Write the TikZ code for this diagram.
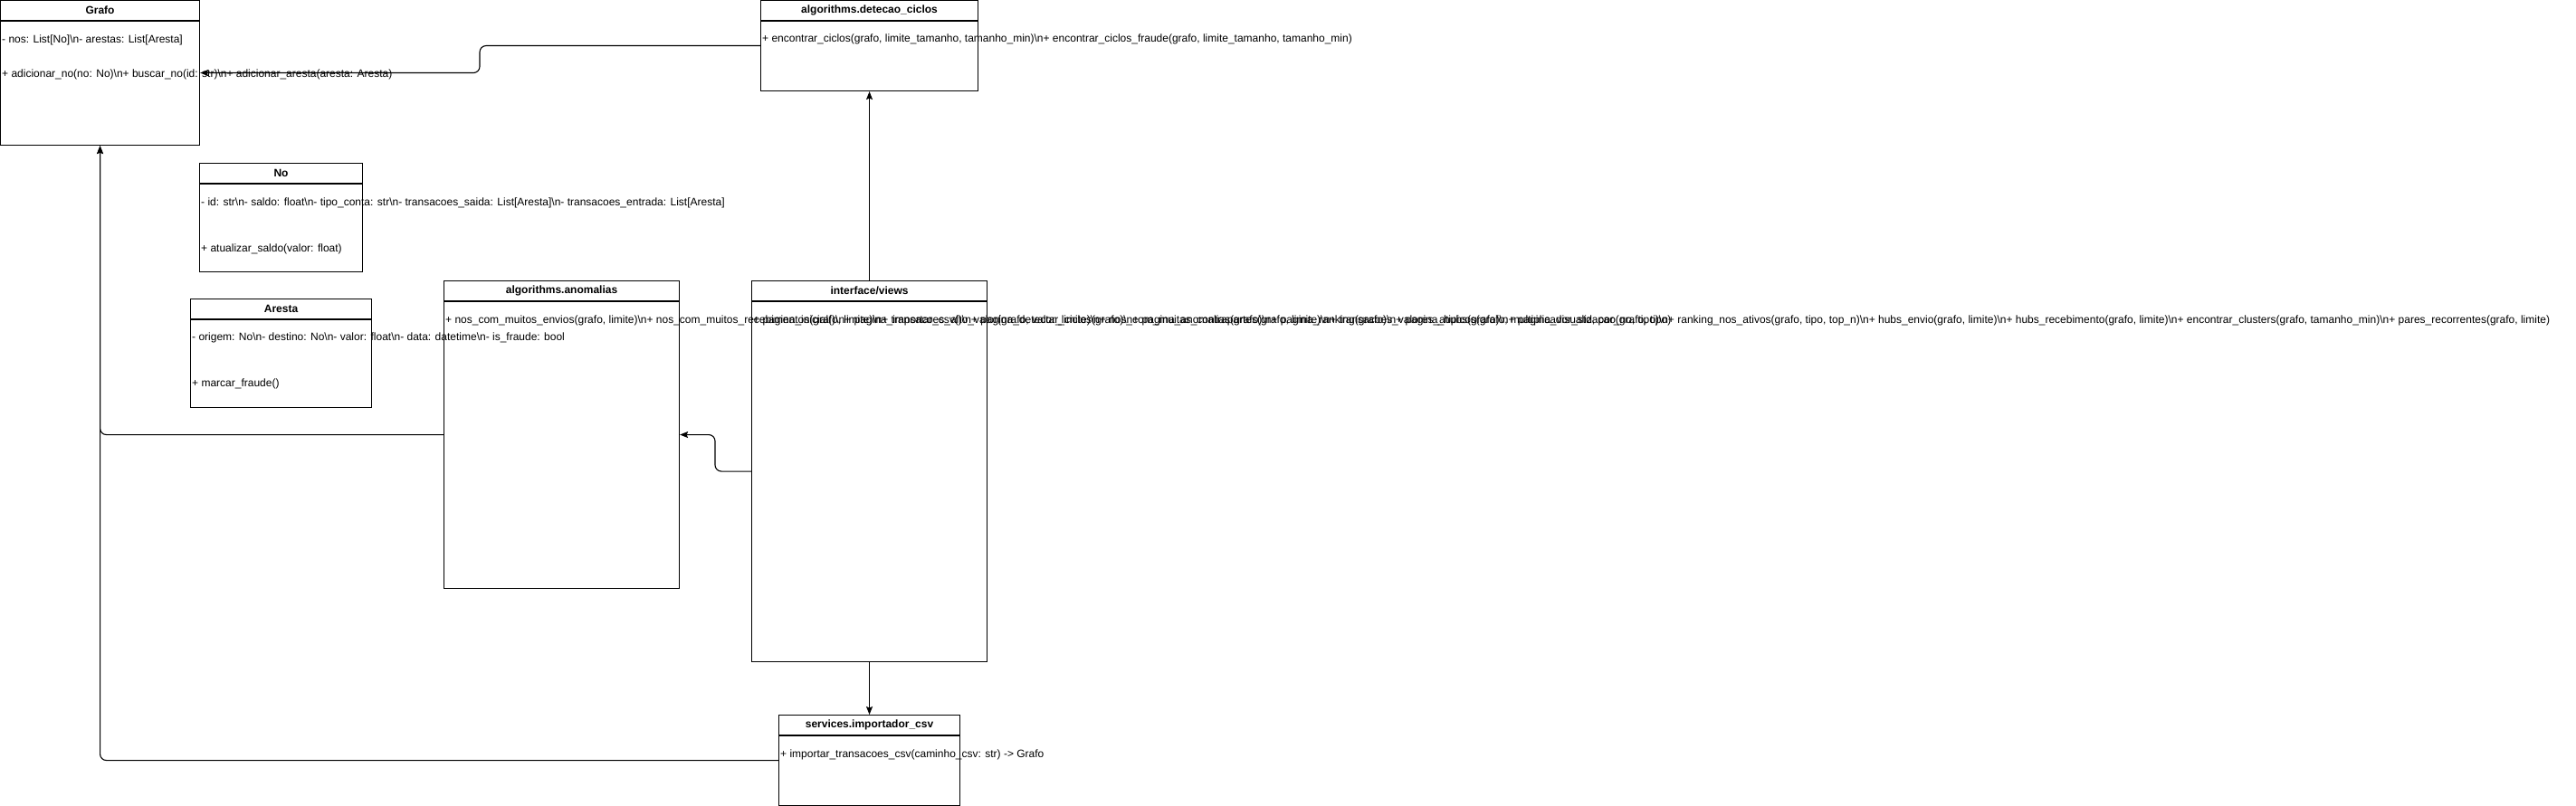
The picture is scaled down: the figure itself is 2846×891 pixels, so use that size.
\documentclass[tikz,border=0pt]{standalone}
\usepackage{fontspec}
\setmainfont{Liberation Sans}
\usetikzlibrary{arrows.meta,calc}
\tikzset{
  cls/.style={draw, line width=1.1pt, anchor=north west, inner sep=0pt, fill=white},
  ttl/.style={font=\fontsize{12}{14}\selectfont\bfseries, inner sep=0pt},
  txt/.style={font=\fontsize{12}{14}\selectfont, anchor=west, inner sep=0pt},
  conn/.style={line width=1.1pt, rounded corners=7pt, -{Stealth[length=9pt,width=7pt,inset=1.5pt]}}
}
\newcommand{\nl}{\textbackslash n}
\begin{document}
\begin{tikzpicture}[x=1pt,y=-1pt]
\useasboundingbox[fill=white] (0,0) rectangle (2846,891);

% boxes
\node[cls, minimum width=220pt, minimum height=160pt] (grafo) at (0,0) {};
\node[cls, minimum width=240pt, minimum height=100pt] (detecao) at (840,0) {};
\node[cls, minimum width=180pt, minimum height=120pt] (no) at (220,180) {};
\node[cls, minimum width=200pt, minimum height=120pt] (aresta) at (210,330) {};
\node[cls, minimum width=260pt, minimum height=340pt] (anom) at (490,310) {};
\node[cls, minimum width=260pt, minimum height=421pt] (iface) at (830,310) {};
\node[cls, minimum width=200pt, minimum height=100pt] (imp) at (860,790) {};

% header separators
\foreach \b in {grafo,detecao,no,aresta,anom,iface,imp}{
  \draw[line width=1.1pt] ($(\b.north west)+(0,23)$) -- ($(\b.north east)+(0,23)$);
}

% titles
\node[ttl] (grafoT) at ($(grafo.north)+(0,11.5)$) {Grafo};
\node[ttl] (detecaoT) at ($(detecao.north)+(0,11.5)$) {algorithms.detecao\_ciclos};
\node[ttl] (noT) at ($(no.north)+(0,11.5)$) {No};
\node[ttl] (arestaT) at ($(aresta.north)+(0,11.5)$) {Aresta};
\node[ttl] (anomT) at ($(anom.north)+(0,11.5)$) {algorithms.anomalias};
\node[ttl] (ifaceT) at ($(iface.north)+(0,11.5)$) {interface/views};
\node[ttl] (impT) at ($(imp.north)+(0,11.5)$) {services.importador\_csv};

% connectors
\draw[conn] (detecao.west) -- ++(-310,0) |- (grafo.east);
\draw[conn] (iface.north) -- (detecao.south);
\draw[conn] (iface.west) -- ++(-40,0) |- (anom.east);
\draw[conn] (anom.west) -| (grafo.south);
\draw[conn] (imp.west) -| (grafo.south);
\draw[conn] (iface.south) -- (imp.north);

% texts
\node[txt] (grafoA) at ($(grafo.north west)+(2,44)$) {- nos: List[No]\nl- arestas: List[Aresta]};
\node[txt] (grafoM) at ($(grafo.north west)+(2,82)$) {+ adicionar\_no(no: No)\nl+ buscar\_no(id: str)\nl+ adicionar\_aresta(aresta: Aresta)};
\node[txt] (detecaoM) at ($(detecao.north west)+(2,43)$) {+ encontrar\_ciclos(grafo, limite\_tamanho, tamanho\_min)\nl+ encontrar\_ciclos\_fraude(grafo, limite\_tamanho, tamanho\_min)};
\node[txt] (noA) at ($(no.north west)+(2,44)$) {- id: str\nl- saldo: float\nl- tipo\_conta: str\nl- transacoes\_saida: List[Aresta]\nl- transacoes\_entrada: List[Aresta]};
\node[txt] (noM) at ($(no.north west)+(2,95)$) {+ atualizar\_saldo(valor: float)};
\node[txt] (arestaA) at ($(aresta.north west)+(2,43)$) {- origem: No\nl- destino: No\nl- valor: float\nl- data: datetime\nl- is\_fraude: bool};
\node[txt] (arestaM) at ($(aresta.north west)+(2,94)$) {+ marcar\_fraude()};
\node[txt] (anomM) at ($(anom.north west)+(2,44)$) {+ nos\_com\_muitos\_envios(grafo, limite)\nl+ nos\_com\_muitos\_recebimentos(grafo, limite)\nl+ transacoes\_alto\_valor(grafo, valor\_limite)\nl+ nos\_com\_muitas\_contrapartes(grafo, limite)\nl+ transacoes\_valores\_atipicos(grafo, multiplicador\_std, por\_no, tipo)\nl+ ranking\_nos\_ativos(grafo, tipo, top\_n)\nl+ hubs\_envio(grafo, limite)\nl+ hubs\_recebimento(grafo, limite)\nl+ encontrar\_clusters(grafo, tamanho\_min)\nl+ pares\_recorrentes(grafo, limite)};
\node[txt] (ifaceM) at ($(iface.north west)+(2,44)$) {+ pagina\_inicial()\nl+ pagina\_importar\_csv()\nl+ pagina\_detectar\_ciclos(grafo)\nl+ pagina\_anomalias(grafo)\nl+ pagina\_ranking(grafo)\nl+ pagina\_hubs(grafo)\nl+ pagina\_visualizacao(grafo, tipo)};
\node[txt] (impM) at ($(imp.north west)+(2,44)$) {+ importar\_transacoes\_csv(caminho\_csv: str) -> Grafo};
\end{tikzpicture}
\end{document}
